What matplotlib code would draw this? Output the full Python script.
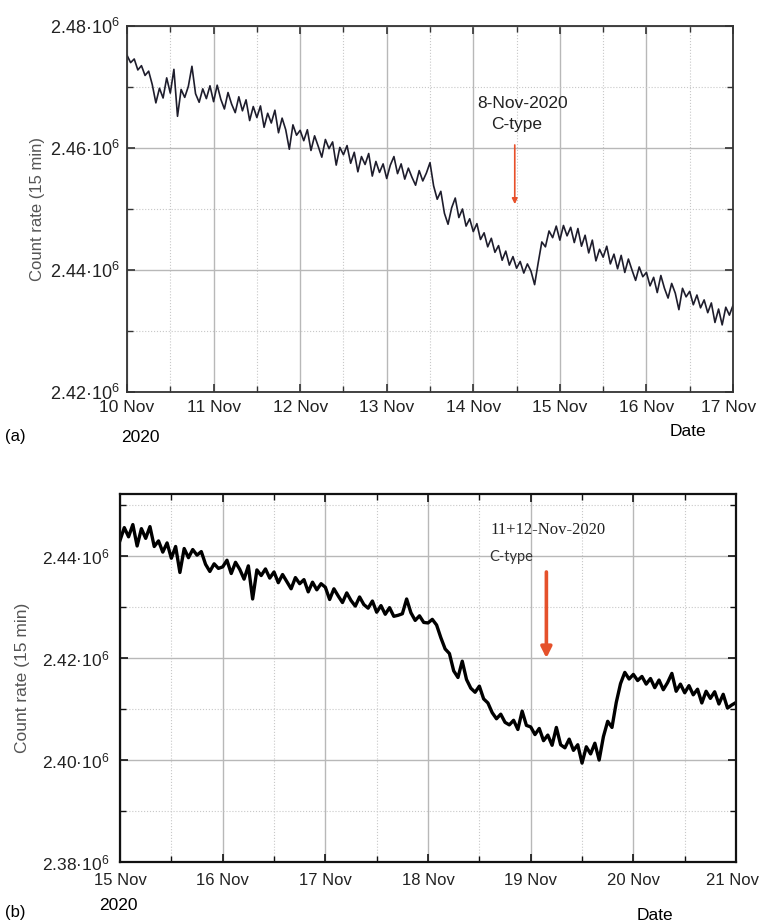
import numpy as np
import pandas as pd
import matplotlib
matplotlib.use("Agg")
import matplotlib.pyplot as plt
import matplotlib.dates as mdates
import matplotlib.transforms as mtransforms
from matplotlib.ticker import FuncFormatter, MultipleLocator

plt.rcParams['font.family'] = ['Liberation Sans', 'DejaVu Sans']
plt.rcParams['mathtext.fontset'] = 'custom'
plt.rcParams['mathtext.rm'] = 'Liberation Sans'
plt.rcParams['mathtext.it'] = 'Liberation Sans:italic'

# hourly count rate, in thousands of counts per 15 min
# (a) 10 Nov 00h .. 17 Nov 00h
rate_a = [
    2475.2, 2474.0, 2474.6, 2472.8, 2473.5, 2471.9, 2472.6, 2470.4, 2467.4, 2469.8, 2468.2, 2471.5,
    2469.0, 2472.9, 2465.2, 2469.6, 2468.3, 2470.1, 2473.4, 2468.9, 2467.5, 2469.7, 2468.1, 2470.2,
    2467.6, 2470.3, 2468.0, 2466.4, 2469.1, 2467.2, 2465.8, 2468.4, 2466.1, 2467.9, 2464.5, 2466.8,
    2465.0, 2466.9, 2463.4, 2465.7, 2464.1, 2466.2, 2462.5, 2464.9, 2463.0, 2459.8, 2463.8, 2462.1,
    2462.9, 2461.2, 2463.0, 2459.6, 2462.0, 2460.3, 2458.5, 2461.4, 2459.9, 2461.0, 2457.2, 2460.1,
    2458.9, 2460.4, 2457.5, 2459.3, 2456.1, 2458.6, 2457.3, 2459.1, 2455.4, 2457.8, 2456.0, 2457.4,
    2455.0, 2457.2, 2458.6, 2455.8, 2457.4, 2454.9, 2456.7, 2455.2, 2453.9, 2456.3, 2454.6, 2455.9,
    2457.6, 2453.8, 2451.6, 2452.9, 2449.3, 2447.5, 2450.2, 2451.8, 2448.6, 2450.0, 2447.2, 2448.4,
    2446.3, 2447.6, 2445.0, 2446.1, 2443.8, 2445.2, 2442.9, 2444.0, 2441.6, 2443.1, 2440.8, 2442.2,
    2440.3, 2441.4, 2439.5, 2441.0, 2439.8, 2437.6, 2441.2, 2444.6, 2443.8, 2446.4, 2445.3, 2447.2,
    2444.9, 2447.3, 2445.6, 2447.0, 2444.5, 2446.8, 2443.9, 2445.7, 2442.8, 2444.9, 2441.5, 2443.4,
    2442.1, 2443.9, 2441.0, 2442.6, 2440.2, 2442.4, 2439.6, 2441.8, 2440.0, 2438.3, 2440.5, 2438.9,
    2439.6, 2437.4, 2438.8, 2436.3, 2439.1, 2437.0, 2435.4, 2437.8, 2436.2, 2433.5, 2437.0, 2435.6,
    2436.5, 2434.3, 2435.9, 2433.8, 2435.1, 2433.0, 2434.6, 2431.4, 2433.6, 2431.0, 2433.9, 2432.6,
    2434.2,
]

# (b) 15 Nov 00h .. 21 Nov 00h
rate_b = [
    2443.1, 2445.6, 2443.8, 2446.2, 2442.0, 2445.4, 2443.5, 2445.8, 2441.9, 2443.0, 2440.8, 2442.6,
    2439.6, 2441.9, 2436.8, 2441.5, 2439.7, 2441.3, 2440.2, 2440.9, 2438.4, 2437.0, 2438.5, 2437.6,
    2437.9, 2439.2, 2436.6, 2438.8, 2437.4, 2435.5, 2438.1, 2431.6, 2437.3, 2436.2, 2437.5, 2435.7,
    2436.9, 2434.8, 2436.4, 2435.0, 2433.6, 2435.8, 2434.6, 2435.4, 2433.0, 2434.9, 2433.4, 2434.6,
    2433.9, 2431.5, 2433.6, 2432.2, 2430.9, 2432.8, 2431.3, 2430.2, 2432.0, 2430.5, 2429.8, 2431.2,
    2429.0, 2430.3, 2428.6, 2429.9, 2428.2, 2428.4, 2428.7, 2431.6, 2428.9, 2427.4, 2428.3, 2427.0,
    2426.9, 2427.6, 2426.5, 2424.0, 2421.8, 2420.9, 2417.5, 2416.2, 2419.4, 2415.8, 2414.1, 2413.3,
    2414.5, 2412.0, 2411.2, 2409.3, 2408.1, 2409.0, 2407.4, 2406.9, 2407.8, 2406.0, 2409.6, 2406.8,
    2406.5, 2405.0, 2406.2, 2403.8, 2404.9, 2402.9, 2406.4, 2403.0, 2402.4, 2404.1, 2401.9, 2403.0,
    2399.4, 2402.6, 2401.2, 2403.3, 2400.0, 2404.6, 2407.6, 2406.4, 2411.3, 2415.0, 2417.2, 2415.9,
    2416.8, 2415.6, 2416.4, 2414.9, 2416.0, 2414.2, 2415.7, 2413.8, 2415.2, 2417.0, 2413.5, 2414.9,
    2413.2, 2414.6, 2412.8, 2413.9, 2411.2, 2413.5, 2412.1, 2413.4, 2411.0, 2412.9, 2410.2, 2410.8,
    2411.3,
]

t_a = pd.date_range("2020-11-10", periods=len(rate_a), freq="h")
t_b = pd.date_range("2020-11-15", periods=len(rate_b), freq="h")


def ylab(v, pos):
    return "%.2f·10$^{6}$" % (v / 1e6)


def style(ax, lw_spine, col_spine, fs):
    ax.xaxis.set_major_locator(mdates.DayLocator())
    ax.xaxis.set_minor_locator(mdates.HourLocator(byhour=[12]))
    ax.xaxis.set_major_formatter(mdates.DateFormatter("%d %b"))
    ax.yaxis.set_major_locator(MultipleLocator(20000))
    ax.yaxis.set_minor_locator(MultipleLocator(10000))
    ax.yaxis.set_major_formatter(FuncFormatter(ylab))
    ax.grid(which="major", color="#b8b8b8", lw=1.0, ls="-")
    ax.grid(which="minor", color="#c8c8c8", lw=0.8, ls=":")
    ax.tick_params(which="both", direction="in", top=True, right=True,
                   color=col_spine, labelsize=fs, labelcolor="#222222")
    ax.tick_params(which="major", length=6, width=1.2)
    ax.tick_params(which="minor", length=4, width=1.0)
    for s in ax.spines.values():
        s.set_linewidth(lw_spine)
        s.set_color(col_spine)
    ax.set_axisbelow(True)


fig = plt.figure(figsize=(7.61, 9.23), dpi=100)

# ---- panel (a)
ax1 = fig.add_axes([0.1669, 0.5753, 0.7963, 0.3965])
ax1.plot(t_a, np.array(rate_a) * 1e3, color="#1e1d2c", lw=1.2)
ax1.set_xlim(pd.Timestamp("2020-11-10"), pd.Timestamp("2020-11-17"))
ax1.set_ylim(2.42e6, 2.48e6)
style(ax1, 1.3, "#333333", 13)
ax1.tick_params(axis="x", labelsize=12.5, pad=6)
ax1.tick_params(axis="y", pad=5)
ax1.set_ylabel("Count rate (15 min)", fontsize=12, color="#555555", labelpad=4)
ax1.annotate("", xy=(pd.Timestamp("2020-11-14 11:30"), 2.4508e6),
             xytext=(pd.Timestamp("2020-11-14 11:30"), 2.4605e6),
             arrowprops=dict(arrowstyle="-|>", color="#e8502a", lw=1.2,
                             mutation_scale=8, shrinkA=0, shrinkB=0))
fig.text(523 / 761, 1 - 104 / 923, "8-Nov-2020", ha="center", va="center",
         fontsize=12.5, color="#222222")
fig.text(517 / 761, 1 - 125 / 923, "C-type", ha="center", va="center",
         fontsize=12.5, color="#222222")
fig.text(15 / 761, 1 - 437 / 923, "(a)", ha="center", va="center", fontsize=12)
fig.text(140 / 761, 1 - 437 / 923, "2020", ha="center", va="center", fontsize=12.5)
fig.text(688 / 761, 1 - 432 / 923, "Date", ha="center", va="center", fontsize=12.5)

# ---- panel (b)
ax2 = fig.add_axes([0.1577, 0.0661, 0.8095, 0.3987])
ax2.plot(t_b, np.array(rate_b) * 1e3, color="black", lw=2.4)
ax2.set_xlim(pd.Timestamp("2020-11-15"), pd.Timestamp("2020-11-21"))
ax2.set_ylim(2.38e6, 2.4522e6)
style(ax2, 1.6, "#111111", 12.5)
ax2.tick_params(axis="y", labelsize=12.5, pad=8)
ax2.tick_params(axis="x", labelsize=12, pad=8)
ax2.set_ylabel("Count rate (15 min)", fontsize=12.5, color="#555555", labelpad=8)
ax2.annotate("", xy=(pd.Timestamp("2020-11-19 03:40"), 2.4200e6),
             xytext=(pd.Timestamp("2020-11-19 03:40"), 2.4369e6),
             arrowprops=dict(arrowstyle="-|>", color="#e5512b", lw=2.6,
                             mutation_scale=16, shrinkA=0, shrinkB=0))
fig.text(490 / 761, 1 - 530 / 923, "11+12-Nov-2020", ha="left", va="center",
         fontsize=12, family=["Liberation Serif", "DejaVu Serif"], color="#222222")
fig.text(489 / 761, 1 - 557 / 923, "C-type", ha="left", va="center",
         fontsize=10.5, family=["Lato", "DejaVu Sans"], color="#333333")
fig.text(15 / 761, 1 - 912 / 923, "(b)", ha="center", va="center", fontsize=12)
fig.text(118 / 761, 1 - 906 / 923, "2020", ha="center", va="center", fontsize=12.5)
fig.text(655 / 761, 1 - 915 / 923, "Date", ha="center", va="center", fontsize=12.5)

# nudge the last date label so it stays inside the figure
fig.canvas.draw()
shift = mtransforms.ScaledTranslation(-4 / 100, 0, fig.dpi_scale_trans)
for ax in (ax1, ax2):
    lab = ax.xaxis.get_major_ticks()[-1].label1
    lab.set_transform(lab.get_transform() + shift)

fig.savefig("out.png", dpi=100)
